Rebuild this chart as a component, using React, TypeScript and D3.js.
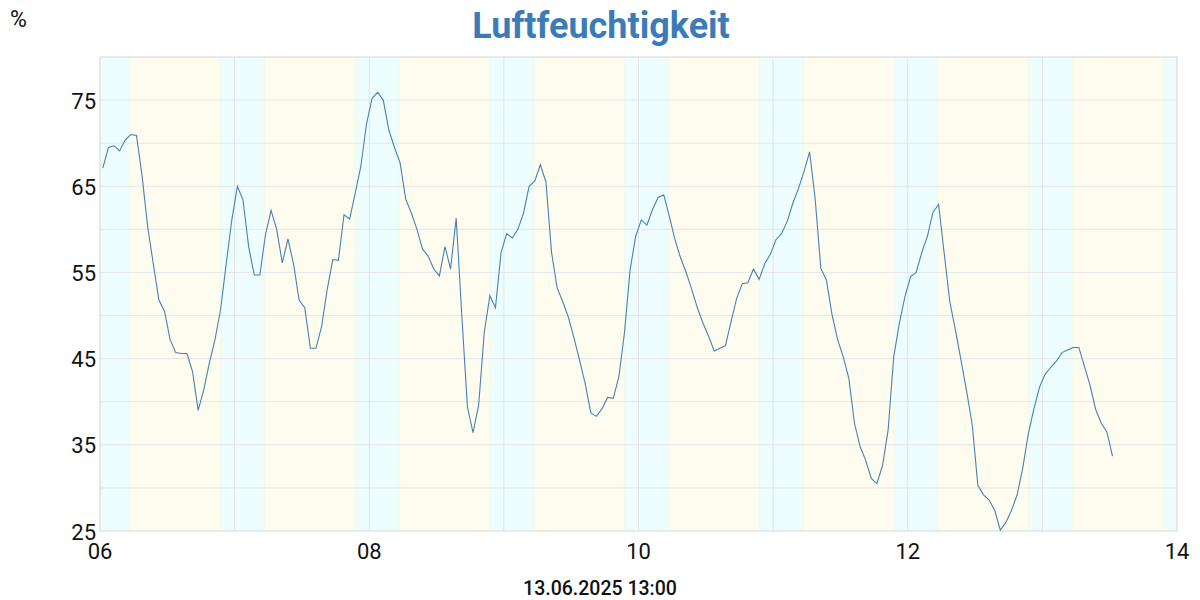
import React from "react";
import * as d3 from "d3";

// Hourly relative humidity (%), starting 06.06.2025 00:30
const startTime = new Date(2025, 5, 6, 0, 30);
const humidity = [
  67.1, 69.5, 69.7, 69.1, 70.4, 71.0, 70.9, 66.2, 60.3, 56.0,
  51.8, 50.5, 47.2, 45.7, 45.6, 45.6, 43.5, 39.0, 41.4, 44.5,
  47.2, 50.7, 56.0, 61.1, 65.0, 63.4, 58.0, 54.7, 54.7, 59.4,
  62.2, 60.0, 56.1, 58.9, 56.0, 51.8, 50.9, 46.2, 46.2, 48.7,
  53.0, 56.5, 56.4, 61.7, 61.2, 64.2, 67.3, 72.2, 75.2, 75.9,
  75.0, 71.5, 69.5, 67.7, 63.5, 61.9, 60.0, 57.7, 56.9, 55.4,
  54.6, 58.0, 55.4, 61.3, 50.0, 39.4, 36.4, 39.6, 48.0, 52.3,
  50.9, 57.3, 59.5, 59.0, 60.0, 61.9, 65.0, 65.6, 67.5, 65.5,
  57.3, 53.2, 51.6, 49.8, 47.4, 44.8, 42.1, 38.7, 38.3, 39.2,
  40.5, 40.4, 42.9, 48.0, 55.3, 59.2, 61.1, 60.5, 62.3, 63.7,
  64.0, 61.5, 58.8, 56.7, 55.0, 53.0, 50.9, 49.1, 47.6, 45.9,
  46.2, 46.5, 49.3, 52.0, 53.7, 53.8, 55.4, 54.2, 56.0, 57.1,
  58.8, 59.5, 60.9, 63.0, 64.7, 66.7, 69.0, 63.5, 55.5, 54.1,
  50.1, 47.2, 45.2, 42.7, 37.5, 34.8, 33.2, 31.1, 30.5, 32.6,
  36.7, 45.2, 49.1, 52.2, 54.5, 55.0, 57.3, 59.2, 62.0, 62.9,
  57.2, 51.6, 48.3, 44.8, 41.2, 37.3, 30.3, 29.2, 28.6, 27.4,
  25.1, 26.0, 27.4, 29.2, 32.3, 36.3, 39.2, 41.7, 43.2, 44.0,
  44.7, 45.7, 46.0, 46.3, 46.3, 44.1, 41.9, 39.1, 37.5, 36.5,
  33.7,
];

// Days shown, with sunrise / sunset (decimal hours)
const dayStarts = [6, 7, 8, 9, 10, 11, 12, 13];
const sunriseHours = [5.3, 5.3, 5.3, 5.3, 5.3, 5.3, 5.3, 5.3];
const sunsetHours = [21.55, 21.55, 21.55, 21.55, 21.55, 21.6, 21.6, 21.6];

const yTicks = [25, 35, 45, 55, 65, 75];
const yGrid = [25, 30, 35, 40, 45, 50, 55, 60, 65, 70, 75, 80];

const title = "Luftfeuchtigkeit";
const unitLabel = "%";
const footer = "13.06.2025 13:00";

const W = 1200;
const H = 600;
const M = { left: 100, right: 23, top: 57, bottom: 69 };

const NIGHT = "#eefefe";
const DAY = "#fefcee";
const TWI = "#f0fcee";

export default function App() {
  const x = d3
    .scaleTime()
    .domain([new Date(2025, 5, 6), new Date(2025, 5, 14)])
    .range([M.left, W - M.right]);
  const y = d3.scaleLinear().domain([25, 80]).range([H - M.bottom, M.top]);

  const points = humidity.map((v, i) => ({
    t: new Date(startTime.getTime() + i * 3600 * 1000),
    v,
  }));
  const line = d3
    .line<{ t: Date; v: number }>()
    .x((d) => x(d.t))
    .y((d) => y(d.v));

  const dayTicks = d3.range(6, 15).map((d) => new Date(2025, 5, d));
  const labelTicks = dayTicks.filter((_, i) => i % 2 === 0);
  const fmt = d3.timeFormat("%d");

  const tw = 0.35; // twilight half width, hours
  const hr = (day: number, h: number) =>
    new Date(2025, 5, day, 0, 0, 0).getTime() + h * 3600 * 1000;

  const bands: { x0: number; x1: number; fill: string }[] = [];
  const transitions: { x0: number; x1: number; id: string }[] = [];
  const xt = (ms: number) => x(new Date(ms));
  const end = new Date(2025, 5, 14).getTime();
  let cursor = new Date(2025, 5, 6).getTime();
  dayStarts.forEach((day, i) => {
    const sr = hr(day, sunriseHours[i]);
    const ss = hr(day, sunsetHours[i]);
    bands.push({ x0: xt(cursor), x1: xt(sr - tw * 3600e3), fill: NIGHT });
    transitions.push({ x0: xt(sr - tw * 3600e3), x1: xt(sr + tw * 3600e3), id: "gUp" });
    bands.push({ x0: xt(sr + tw * 3600e3), x1: xt(ss - tw * 3600e3), fill: DAY });
    transitions.push({ x0: xt(ss - tw * 3600e3), x1: xt(ss + tw * 3600e3), id: "gDown" });
    cursor = ss + tw * 3600e3;
  });
  bands.push({ x0: xt(cursor), x1: xt(end), fill: NIGHT });

  const font = "Roboto, 'Noto Sans', sans-serif";
  const plotTop = M.top;
  const plotBottom = H - M.bottom;

  return (
    <svg
      width={W}
      height={H}
      style={{ position: "absolute", left: 0, top: 0, background: "#fff" }}
      fontFamily={font}
    >
      <defs>
        <linearGradient id="gUp" x1="0" x2="1" y1="0" y2="0">
          <stop offset="0" stopColor={NIGHT} />
          <stop offset="0.5" stopColor={TWI} />
          <stop offset="1" stopColor={DAY} />
        </linearGradient>
        <linearGradient id="gDown" x1="0" x2="1" y1="0" y2="0">
          <stop offset="0" stopColor={DAY} />
          <stop offset="0.5" stopColor={TWI} />
          <stop offset="1" stopColor={NIGHT} />
        </linearGradient>
        <clipPath id="plotClip">
          <rect x={M.left} y={plotTop} width={W - M.left - M.right} height={plotBottom - plotTop} />
        </clipPath>
      </defs>

      <g clipPath="url(#plotClip)">
        {bands.map((b, i) => (
          <rect key={"b" + i} x={b.x0} y={plotTop} width={Math.max(0, b.x1 - b.x0)} height={plotBottom - plotTop} fill={b.fill} />
        ))}
        {transitions.map((b, i) => (
          <rect key={"t" + i} x={b.x0} y={plotTop} width={Math.max(0, b.x1 - b.x0)} height={plotBottom - plotTop} fill={`url(#${b.id})`} />
        ))}
      </g>

      {yGrid.map((v) => (
        <line key={"gy" + v} x1={M.left} x2={W - M.right} y1={y(v)} y2={y(v)} stroke="#e6e6e6" strokeWidth={1} />
      ))}
      {dayTicks.map((d, i) => (
        <line key={"gx" + i} x1={x(d)} x2={x(d)} y1={plotTop} y2={plotBottom} stroke="#e3e3e8" strokeWidth={1} />
      ))}
      <rect x={M.left} y={plotTop} width={W - M.left - M.right} height={plotBottom - plotTop} fill="none" stroke="#e0e0e0" strokeWidth={1} />

      <path d={line(points) || ""} fill="none" stroke="#4682b4" strokeWidth={1.1} clipPath="url(#plotClip)" />

      {yTicks.map((v) => (
        <text key={"yt" + v} x={M.left - 4} y={y(v) + 1} textAnchor="end" dominantBaseline="central" fontSize={22} fill="#111">
          {v}
        </text>
      ))}
      {labelTicks.map((d, i) => (
        <text key={"xt" + i} x={x(d)} y={551} textAnchor="middle" dominantBaseline="central" fontSize={22} fill="#111">
          {fmt(d)}
        </text>
      ))}

      <text x={601} y={38} textAnchor="middle" fontSize={36} fontWeight={700} fill="#3b7cb8">
        {title}
      </text>
      <text x={10} y={27} fontSize={23} fill="#111">
        {unitLabel}
      </text>
      <text x={600} y={595} textAnchor="middle" fontSize={19.5} fontWeight={500} fill="#111">
        {footer}
      </text>
    </svg>
  );
}
